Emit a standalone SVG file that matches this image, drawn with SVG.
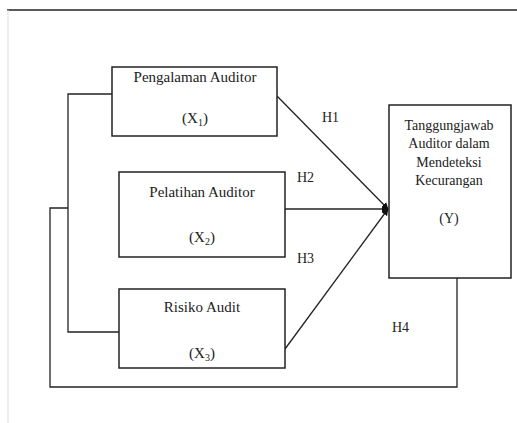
<svg xmlns="http://www.w3.org/2000/svg" width="517" height="423" viewBox="0 0 517 423">
<style>
.box{fill:#fff;stroke:#222;stroke-width:1.5}
.t{font-family:"Liberation Serif","Times New Roman",serif;font-size:15px;fill:#222;text-anchor:middle}
.ty{font-size:14px}
.l{font-family:"Liberation Serif","Times New Roman",serif;font-size:14px;fill:#222}
.c{fill:none;stroke:#222;stroke-width:1.3}
</style>
<defs>
<marker id="ah" viewBox="0 0 10 10" refX="9" refY="5" markerWidth="7" markerHeight="7" markerUnits="userSpaceOnUse" orient="auto">
<path d="M0,0 L10,5 L0,10 z" fill="#111"/>
</marker>
</defs>
<rect width="517" height="423" fill="#fff"/>
<line x1="7" y1="10" x2="517" y2="10" stroke="#222" stroke-width="1.5"/>
<line x1="8" y1="10" x2="8" y2="423" stroke="#ddd" stroke-width="1"/>
<g id="connectors">
<path class="c" d="M112,94 H68 V332 H119"/>
<path class="c" d="M68,208 H50 V387 H457 V278"/>
<line class="c" x1="277" y1="96" x2="388" y2="209" marker-end="url(#ah)"/>
<line class="c" x1="285" y1="209" x2="388" y2="209" marker-end="url(#ah)"/>
<line class="c" x1="285" y1="349" x2="388" y2="209" marker-end="url(#ah)"/>
<text class="l" x="322" y="122">H1</text>
<text class="l" x="297" y="182">H2</text>
<text class="l" x="297" y="263">H3</text>
<text class="l" x="392" y="332">H4</text>
</g>
<g id="x1">
<rect class="box" x="112" y="67" width="165" height="69"/>
<text class="t" x="195" y="82">Pengalaman Auditor</text>
<text class="t" x="195" y="123">(X<tspan font-size="10" dy="3">1</tspan><tspan dy="-3">)</tspan></text>
</g>
<g id="x2">
<rect class="box" x="119" y="172" width="166" height="85"/>
<text class="t" x="202" y="197">Pelatihan Auditor</text>
<text class="t" x="202" y="242">(X<tspan font-size="10" dy="3">2</tspan><tspan dy="-3">)</tspan></text>
</g>
<g id="x3">
<rect class="box" x="119" y="289" width="166" height="79"/>
<text class="t" x="202" y="312">Risiko Audit</text>
<text class="t" x="202" y="358">(X<tspan font-size="10" dy="3">3</tspan><tspan dy="-3">)</tspan></text>
</g>
<g id="y">
<rect class="box" x="389" y="105" width="122" height="173"/>
<text class="t ty" x="449" y="130">Tanggungjawab</text>
<text class="t ty" x="449" y="148">Auditor dalam</text>
<text class="t ty" x="449" y="167">Mendeteksi</text>
<text class="t ty" x="449" y="185">Kecurangan</text>
<text class="t ty" x="449" y="223">(Y)</text>
</g>
</svg>
